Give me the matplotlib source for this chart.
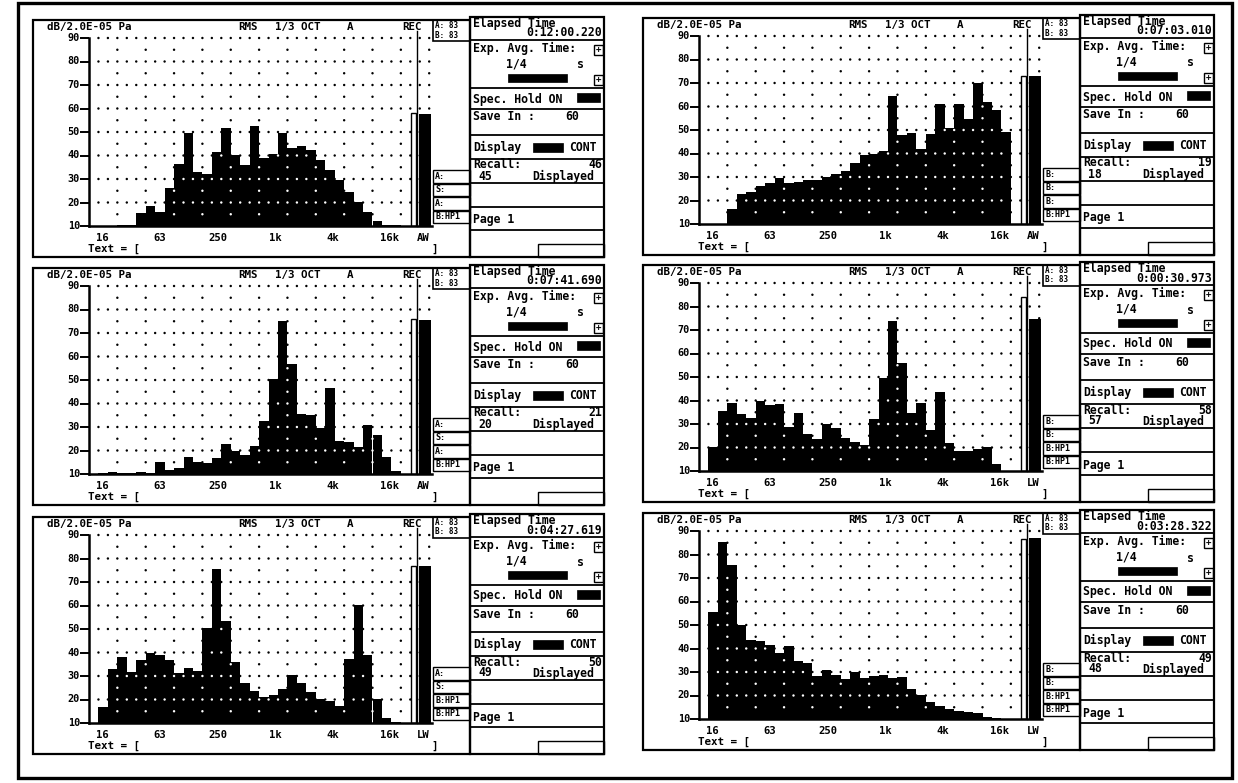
import matplotlib
matplotlib.use("Agg")
import matplotlib.pyplot as plt
from matplotlib.patches import Rectangle
import numpy as np

W, H, DPI = 1238, 783, 100

# ---------------- data ----------------
bands = ["12.5", "16", "20", "25", "31.5", "40", "50", "63", "80", "100", "125",
         "160", "200", "250", "315", "400", "500", "630", "800", "1k", "1.25k",
         "1.6k", "2k", "2.5k", "3.15k", "4k", "5k", "6.3k", "8k", "10k", "12.5k",
         "16k", "20k"]
freq_labels = ["16", "63", "250", "1k", "4k", "16k"]
y_ticks = [10, 20, 30, 40, 50, 60, 70, 80, 90]

spec_1 = [10, 10, 10.2, 10.3, 10.3, 15.5, 18.3, 16, 26, 36.4, 49.7, 32.9, 32, 41.4,
          51.9, 40, 36, 52.6, 39, 40.7, 49.4, 43, 44, 42.3, 38, 34, 29.7, 24.3,
          20.4, 15.9, 12.3, 10.5, 10.3]
spec_2 = [10, 10, 10, 16.3, 22.8, 23.8, 26, 27.6, 29.7, 27.6, 28, 28.7, 28.7, 30,
          31.3, 32.5, 35.8, 39.3, 39.8, 41, 64.6, 48, 48.8, 41.8, 48.3, 61, 51, 61,
          54.6, 70.1, 62, 58.5, 49]
spec_3 = [10, 10.3, 10.8, 10.3, 10.3, 10.8, 10.3, 14.9, 11.8, 12.5, 17.4, 14.9, 14.6,
          17, 22.7, 19.8, 18.1, 21.9, 32.5, 50.3, 75.3, 56.9, 35.6, 34.9, 29.7, 46.8,
          24, 23.7, 21.6, 30.7, 26.8, 17.4, 11.1]
spec_4 = [10, 20.2, 35.5, 39, 34.4, 32.7, 39.7, 37.9, 38.3, 28.7, 34.8, 25.9, 23.7,
          29.8, 28.1, 23.9, 22.5, 21, 32, 49.7, 74, 55.8, 34.8, 38.8, 27.4, 43.6, 22,
          18.5, 18.5, 19.2, 20.2, 12.8, 10]
spec_5 = [10, 16.6, 32.8, 38.1, 31.9, 36.8, 39.9, 38.8, 36.8, 31.2, 33.6, 32.1, 50.5,
          75.4, 53.6, 36, 26.9, 23.7, 20.9, 21.8, 24.4, 30.3, 26.9, 23, 20.2, 19.4,
          17.1, 37.1, 60.4, 38.8, 20.4, 12, 10.5]
spec_6 = [10, 55.5, 85.5, 75.5, 49.9, 43.5, 43.1, 41.4, 37.9, 41, 34.6, 33.7, 28.3,
          30.8, 28.7, 26.9, 29.9, 27.3, 28.5, 28.7, 27.3, 28, 22.8, 20.3, 17.2, 15.6,
          14.2, 13.5, 12.8, 12.5, 10.8, 10.3, 10.2]
spectra = [spec_1, spec_2, spec_3, spec_4, spec_5, spec_6]

overall_label = ["AW", "AW", "AW", "LW", "LW", "LW"]
overall_level = [57.5, 73, 75.5, 74.5, 77, 87]
overall_hold = [58, 73, 76, 84, 77, 86.5]
elapsed = ["0:12:00.220", "0:07:03.010", "0:07:41.690",
           "0:00:30.973", "0:04:27.619", "0:03:28.322"]
recall_total = ["46", "19", "21", "58", "50", "49"]
recall_shown = ["45", "18", "20", "57", "49", "48"]
side_boxes = [["A:", "S:", "A:", "B:HP1"], ["B:", "B:", "B:", "B:HP1"],
              ["A:", "S:", "A:", "B:HP1"], ["B:", "B:", "B:HP1", "B:HP1"],
              ["A:", "S:", "B:HP1", "B:HP1"], ["B:", "B:", "B:HP1", "B:HP1"]]

# ---------------- layout ----------------
PL = [33, 643, 33, 643, 33, 643]
PT = [20, 18, 268, 265, 517, 513]
BW = 9.45          # px per band
Y90, Y10 = 18, 206  # offsets from panel top
XMAX = 36.3

FONT = "DejaVu Sans Mono"

fig = plt.figure(figsize=(W / DPI, H / DPI), dpi=DPI)
fig.patch.set_facecolor("white")
ov = fig.add_axes([0, 0, 1, 1])
ov.set_xlim(0, W)
ov.set_ylim(H, 0)
ov.axis("off")


def rect(x0, y0, x1, y1, lw=1.3, fill=False):
    ov.add_patch(Rectangle((x0, y0), x1 - x0, y1 - y0, fill=fill,
                           facecolor="black" if fill else "none",
                           edgecolor="black", linewidth=lw))


def hline(x0, x1, y, lw=1.2):
    ov.plot([x0, x1], [y, y], color="black", lw=lw, solid_capstyle="butt")


def txt(x, y, s, ha="left", size=8.3):
    ov.text(x, y, s, ha=ha, va="center", fontsize=size, family=FONT,
            fontweight="bold", color="black")


# outer frame
rect(18, 3, 1232, 778, lw=2.4)

for k in range(6):
    L, T = PL[k], PT[k]
    # screen box
    rect(L, T, L + 437, T + 237, lw=1.6)
    # header texts
    txt(L + 14, T + 7, "dB/2.0E-05 Pa", size=7.8)
    txt(L + 205, T + 7, "RMS", size=7.8)
    txt(L + 242, T + 7, "1/3 OCT", size=7.8)
    txt(L + 314, T + 7, "A", size=7.8)
    txt(L + 369, T + 7, "REC", size=7.8)
    txt(L + 55, T + 229, "Text = [", size=7.8)
    txt(L + 398, T + 229, "]", size=7.8)
    # top-right A/B box
    rect(L + 400, T, L + 437, T + 21, lw=1.2)
    txt(L + 402, T + 5.5, "A: 83", size=5.5)
    txt(L + 402, T + 15, "B: 83", size=5.5)
    # side boxes
    for j, s in enumerate(side_boxes[k]):
        y0 = T + 150 + j * 13.5
        rect(L + 400, y0, L + 437, y0 + 12.5, lw=1.0)
        txt(L + 402, y0 + 6.3, s, size=6)
    # y tick labels and marks
    for v in y_ticks:
        yp = T + Y10 - (v - 10) * (Y10 - Y90) / 80.0
        txt(L + 47, yp, str(v), ha="right", size=7.3)
        hline(L + 47, L + 56, yp, lw=1.4)
    # x labels
    for pos, s in zip([1.4, 7.5, 13.6, 19.7, 25.8, 31.8], freq_labels):
        ov.text(L + 56 + pos * BW, T + 218, s, ha="center", va="center",
                fontsize=7.6, family=FONT, fontweight="bold")
    ov.text(L + 56 + 35.4 * BW, T + 218, overall_label[k], ha="center",
            va="center", fontsize=7.6, family=FONT, fontweight="bold")

    # ---------- info panel ----------
    IL, IT = L + 437, T - 3
    rect(IL, IT, IL + 134, T + 237, lw=1.6)
    for dy in [22.6, 70.6, 91.6, 118.3, 141.6, 166, 190, 213.3]:
        hline(IL, IL + 134, IT + dy, lw=1.3)
    txt(IL + 3, IT + 6, "Elapsed Time")
    txt(IL + 132, IT + 16, elapsed[k], ha="right")
    txt(IL + 3, IT + 31, "Exp. Avg. Time:")
    rect(IL + 124, IT + 28, IL + 133, IT + 37.5, lw=1.0)
    txt(IL + 128.5, IT + 32.8, "+", ha="center", size=6.5)
    txt(IL + 36, IT + 47, "1/4")
    txt(IL + 107, IT + 48, "s")
    rect(IL + 38, IT + 56.5, IL + 97, IT + 64.5, fill=True, lw=0.5)
    rect(IL + 124, IT + 58, IL + 133, IT + 67.5, lw=1.0)
    txt(IL + 128.5, IT + 62.8, "+", ha="center", size=6.5)
    txt(IL + 3, IT + 82, "Spec. Hold ON")
    rect(IL + 107, IT + 76, IL + 130, IT + 85, fill=True, lw=0.5)
    txt(IL + 3, IT + 100, "Save In :")
    txt(IL + 95, IT + 100, "60")
    txt(IL + 3, IT + 130.5, "Display")
    rect(IL + 63, IT + 126, IL + 93, IT + 135, fill=True, lw=0.5)
    txt(IL + 99, IT + 130.5, "CONT")
    txt(IL + 3, IT + 148, "Recall:")
    txt(IL + 132, IT + 148, recall_total[k], ha="right")
    txt(IL + 8, IT + 159, recall_shown[k])
    txt(IL + 62, IT + 159, "Displayed")
    txt(IL + 3, IT + 203, "Page 1")
    rect(IL + 68, IT + 226.5, IL + 134, T + 237, lw=1.0)

    # ---------- spectrum axes ----------
    ax = fig.add_axes([(L + 56) / W, 1 - (T + Y10) / H,
                       XMAX * BW / W, (Y10 - Y90) / H])
    ax.set_xlim(0, XMAX)
    ax.set_ylim(10, 90)
    ax.axis("off")
    ax.patch.set_alpha(0)
    lev = np.array(spectra[k], dtype=float)
    x = np.arange(len(bands))
    ax.bar(x, lev - 10, bottom=10, width=1.0, align="edge", color="black",
           linewidth=0, zorder=2)
    # overall bar, hold bar and REC cursor
    ax.bar([34.9], [overall_level[k] - 10], bottom=10, width=1.3, align="edge",
           color="black", linewidth=0, zorder=2)
    ax.add_patch(Rectangle((34.1, 10), 0.5, overall_hold[k] - 10, fill=False,
                           edgecolor="black", linewidth=1.0, zorder=2))
    ax.plot([34.75, 34.75], [10, 93], color="black", lw=1.0, clip_on=False,
            zorder=3)
    # axes lines
    ax.plot([0, 0], [10, 90], color="black", lw=1.8, clip_on=False, zorder=3)
    ax.plot([0, XMAX], [10, 10], color="black", lw=1.8, clip_on=False, zorder=3)

    # dotted grid, inverted inside bars
    def height_at(xx):
        hs = []
        for b in (int(np.floor(xx - 1e-6)), int(np.floor(xx + 1e-6))):
            if 0 <= b < len(lev):
                hs.append(lev[b])
            elif 34.9 <= b + 0.5 <= 36.2:
                hs.append(overall_level[k])
            else:
                hs.append(10)
        return min(hs)

    gx, gy, gc = [], [], []
    for yv in range(20, 91, 10):
        for xi in range(1, 37):
            gx.append(xi); gy.append(yv)
            gc.append("white" if yv < height_at(xi) - 0.5 else "black")
    for xi in range(3, 37, 3):
        for yv in range(15, 90, 10):
            gx.append(xi); gy.append(yv)
            gc.append("white" if yv < height_at(xi) - 0.5 else "black")
    ax.scatter(gx, gy, s=3.0, c=gc, linewidths=0, zorder=4, clip_on=False)

fig.savefig("out.png", dpi=DPI, facecolor="white")
